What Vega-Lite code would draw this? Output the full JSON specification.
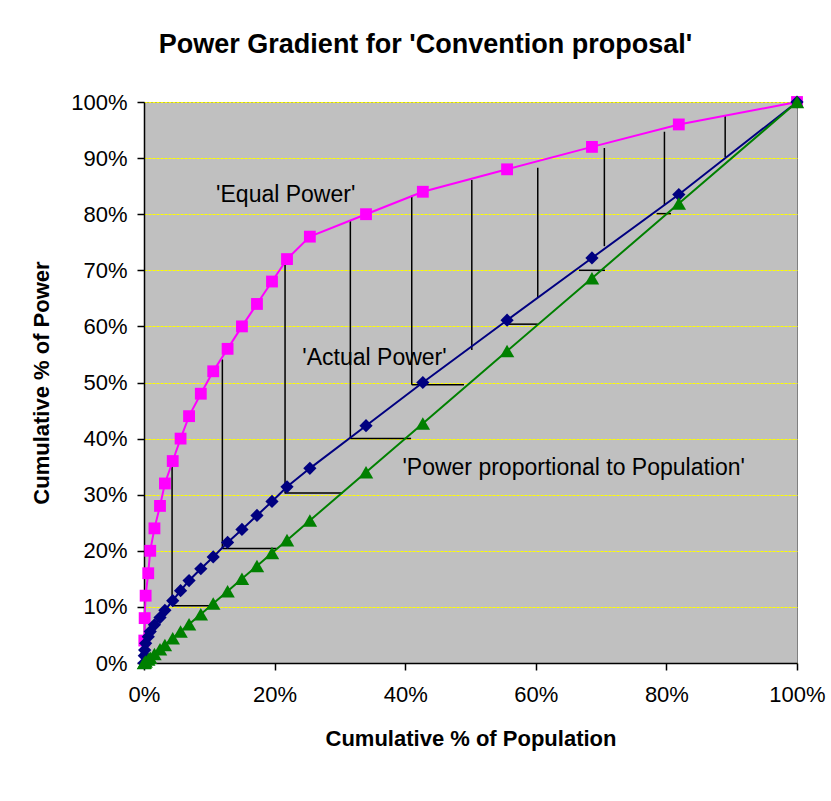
{
  "$schema": "https://vega.github.io/schema/vega-lite/v6.json",
  "width": 653,
  "height": 561,
  "autosize": {"type": "none"},
  "padding": {"left": 144, "top": 102, "right": 34, "bottom": 138},
  "background": "white",
  "config": {
    "font": "Liberation Sans",
    "view": {"fill": "#C0C0C0", "stroke": "#808080", "strokeWidth": 1},
    "axis": {
      "domainColor": "black", "domainWidth": 1.5,
      "tickColor": "black", "tickWidth": 1.5, "tickSize": 7,
      "labelColor": "black", "labelFontSize": 22, "labelFont": "Liberation Sans",
      "titleColor": "black", "titleFontSize": 22, "titleFontWeight": "bold", "titleFont": "Liberation Sans"
    }
  },
  "title": {
    "text": "Power Gradient for 'Convention proposal'",
    "fontSize": 27, "fontWeight": "bold", "font": "Liberation Sans", "color": "black",
    "anchor": "middle", "dx": -45, "offset": 11, "baseline": "alphabetic"
  },
  "datasets": {
    "pts": [
      {"pop": 0, "Actual Power": 0, "Proportional": 0},
      {"pop": 0.0005, "Equal Power": 0.04, "Actual Power": 0.013, "Proportional": 0.0005},
      {"pop": 0.001, "Equal Power": 0.08, "Actual Power": 0.023, "Proportional": 0.001},
      {"pop": 0.0025, "Equal Power": 0.12, "Actual Power": 0.035, "Proportional": 0.0025},
      {"pop": 0.0065, "Equal Power": 0.16, "Actual Power": 0.047, "Proportional": 0.0065},
      {"pop": 0.0095, "Equal Power": 0.20, "Actual Power": 0.056, "Proportional": 0.0095},
      {"pop": 0.016, "Equal Power": 0.24, "Actual Power": 0.068, "Proportional": 0.016},
      {"pop": 0.0245, "Equal Power": 0.28, "Actual Power": 0.081, "Proportional": 0.0245},
      {"pop": 0.032, "Equal Power": 0.32, "Actual Power": 0.094, "Proportional": 0.032},
      {"pop": 0.044, "Equal Power": 0.36, "Actual Power": 0.111, "Proportional": 0.044},
      {"pop": 0.056, "Equal Power": 0.40, "Actual Power": 0.129, "Proportional": 0.056},
      {"pop": 0.069, "Equal Power": 0.44, "Actual Power": 0.147, "Proportional": 0.069},
      {"pop": 0.087, "Equal Power": 0.48, "Actual Power": 0.168, "Proportional": 0.087},
      {"pop": 0.106, "Equal Power": 0.52, "Actual Power": 0.189, "Proportional": 0.106},
      {"pop": 0.128, "Equal Power": 0.56, "Actual Power": 0.215, "Proportional": 0.128},
      {"pop": 0.150, "Equal Power": 0.60, "Actual Power": 0.238, "Proportional": 0.150},
      {"pop": 0.173, "Equal Power": 0.64, "Actual Power": 0.263, "Proportional": 0.173},
      {"pop": 0.196, "Equal Power": 0.68, "Actual Power": 0.288, "Proportional": 0.196},
      {"pop": 0.219, "Equal Power": 0.72, "Actual Power": 0.314, "Proportional": 0.219},
      {"pop": 0.254, "Equal Power": 0.76, "Actual Power": 0.347, "Proportional": 0.254},
      {"pop": 0.340, "Equal Power": 0.80, "Actual Power": 0.423, "Proportional": 0.340},
      {"pop": 0.427, "Equal Power": 0.84, "Actual Power": 0.500, "Proportional": 0.427},
      {"pop": 0.556, "Equal Power": 0.88, "Actual Power": 0.611, "Proportional": 0.556},
      {"pop": 0.686, "Equal Power": 0.92, "Actual Power": 0.722, "Proportional": 0.686},
      {"pop": 0.819, "Equal Power": 0.96, "Actual Power": 0.835, "Proportional": 0.819},
      {"pop": 1.0, "Equal Power": 1.0, "Actual Power": 1.0, "Proportional": 1.0}
    ],
    "segs": [
      {"x1": 0.043, "x2": 0.043, "y1": 0.357, "y2": 0.102},
      {"x1": 0.120, "x2": 0.120, "y1": 0.541, "y2": 0.204},
      {"x1": 0.216, "x2": 0.216, "y1": 0.724, "y2": 0.302},
      {"x1": 0.316, "x2": 0.316, "y1": 0.788, "y2": 0.400},
      {"x1": 0.410, "x2": 0.410, "y1": 0.833, "y2": 0.496},
      {"x1": 0.502, "x2": 0.502, "y1": 0.861, "y2": 0.558},
      {"x1": 0.603, "x2": 0.603, "y1": 0.883, "y2": 0.652},
      {"x1": 0.705, "x2": 0.705, "y1": 0.918, "y2": 0.743},
      {"x1": 0.797, "x2": 0.797, "y1": 0.947, "y2": 0.816},
      {"x1": 0.890, "x2": 0.890, "y1": 0.976, "y2": 0.902},
      {"x1": 0.043, "x2": 0.100, "y1": 0.102, "y2": 0.102},
      {"x1": 0.120, "x2": 0.203, "y1": 0.204, "y2": 0.204},
      {"x1": 0.216, "x2": 0.304, "y1": 0.303, "y2": 0.303},
      {"x1": 0.316, "x2": 0.409, "y1": 0.400, "y2": 0.400},
      {"x1": 0.410, "x2": 0.490, "y1": 0.496, "y2": 0.496},
      {"x1": 0.558, "x2": 0.603, "y1": 0.604, "y2": 0.604},
      {"x1": 0.666, "x2": 0.706, "y1": 0.700, "y2": 0.700},
      {"x1": 0.785, "x2": 0.807, "y1": 0.801, "y2": 0.801}
    ],
    "notes": [
      {"label": "'Equal Power'", "px": 0.217, "py": 0.834},
      {"label": "'Actual Power'", "px": 0.353, "py": 0.544},
      {"label": "'Power proportional to Population'", "px": 0.658, "py": 0.348}
    ]
  },
  "layer": [
    {
      "data": {"name": "segs"},
      "mark": {"type": "rule", "color": "black", "strokeWidth": 1.5},
      "encoding": {
        "x": {"field": "x1", "type": "quantitative", "scale": {"domain": [0, 1], "nice": false},
          "axis": {"values": [0, 0.2, 0.4, 0.6, 0.8, 1], "format": ".0%", "grid": false, "labelFlush": false, "title": "Cumulative % of Population", "labelPadding": 14, "titlePadding": 23}},
        "x2": {"field": "x2"},
        "y": {"field": "y1", "type": "quantitative", "scale": {"domain": [0, 1], "nice": false},
          "axis": {"values": [0, 0.1, 0.2, 0.3, 0.4, 0.5, 0.6, 0.7, 0.8, 0.9, 1], "format": ".0%", "grid": true, "gridColor": "#FFFF00", "gridDash": [3, 1], "gridWidth": 1.2, "labelFlush": false, "title": "Cumulative % of Power", "labelPadding": 10, "titlePadding": 17}},
        "y2": {"field": "y2"}
      }
    },
    {
      "data": {"name": "pts"},
      "transform": [
        {"fold": ["Equal Power", "Actual Power", "Proportional"], "as": ["series", "power"]},
        {"filter": "isValid(datum.power)"}
      ],
      "layer": [
        {
          "mark": {"type": "line"},
          "encoding": {
            "x": {"field": "pop", "type": "quantitative"},
            "y": {"field": "power", "type": "quantitative"},
            "color": {"field": "series", "type": "nominal", "scale": {"domain": ["Equal Power", "Actual Power", "Proportional"], "range": ["#FF00FF", "#000080", "#008000"]}, "legend": null},
            "strokeWidth": {"field": "series", "type": "nominal", "scale": {"domain": ["Equal Power", "Actual Power", "Proportional"], "range": [2, 2, 1.5]}, "legend": null}
          }
        },
        {
          "mark": {"type": "point", "filled": true, "opacity": 1},
          "encoding": {
            "x": {"field": "pop", "type": "quantitative"},
            "y": {"field": "power", "type": "quantitative"},
            "color": {"field": "series", "type": "nominal", "legend": null},
            "shape": {"field": "series", "type": "nominal", "scale": {"domain": ["Equal Power", "Actual Power", "Proportional"], "range": ["square", "diamond", "triangle-up"]}, "legend": null},
            "size": {"field": "series", "type": "nominal", "scale": {"domain": ["Equal Power", "Actual Power", "Proportional"], "range": [140, 210, 230]}, "legend": null}
          }
        }
      ]
    },
    {
      "data": {"name": "notes"},
      "mark": {"type": "text", "fontSize": 23, "font": "Liberation Sans", "color": "black", "align": "center", "baseline": "middle"},
      "encoding": {
        "x": {"field": "px", "type": "quantitative"},
        "y": {"field": "py", "type": "quantitative"},
        "text": {"field": "label"}
      }
    }
  ]
}
